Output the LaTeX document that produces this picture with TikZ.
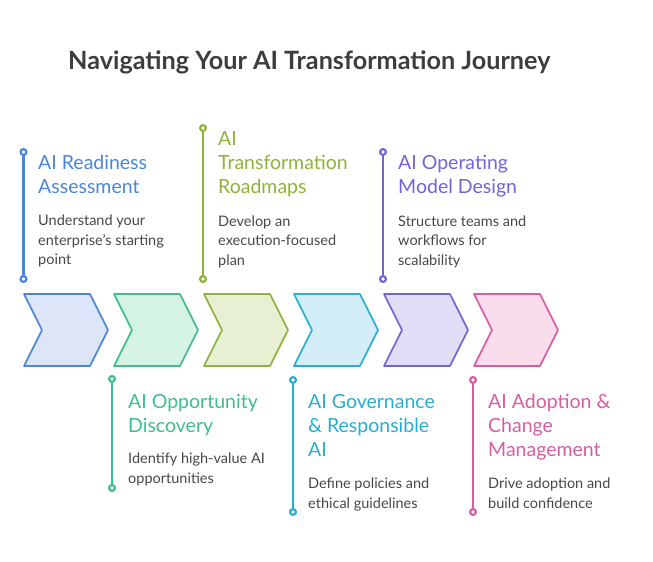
\documentclass[tikz,border=0pt]{standalone}
\usepackage{fontspec}
\setmainfont{Lato}
\usetikzlibrary{arrows.meta}
\definecolor{cblue}{HTML}{4A86D8}
\definecolor{cgreen}{HTML}{3DBE8B}
\definecolor{colive}{HTML}{8DB33A}
\definecolor{ccyan}{HTML}{27AED2}
\definecolor{cpurple}{HTML}{7463D6}
\definecolor{cpink}{HTML}{D95BA0}
\definecolor{textgray}{HTML}{474747}
\definecolor{headgray}{HTML}{3D3D3D}
\tikzset{
	ttl/.style={anchor=base west, align=left, inner sep=0pt, font=\fontsize{19.5}{24}\selectfont},
	desc/.style={anchor=base west, align=left, inner sep=0pt, text=textgray, font=\fontsize{14.5}{19.5}\selectfont},
	pin/.style={line width=2.2pt, {Circle[open,fill=white,length=8pt,width=8pt]}-{Circle[open,fill=white,length=8pt,width=8pt]}}
}

\begin{document}
\begin{tikzpicture}[x=1pt,y=-1pt]
			\useasboundingbox (0,0) rectangle (653,562);
			\node[anchor=base west, inner sep=0pt, text=headgray, font=\fontsize{25.2}{30}\selectfont\bfseries] (head) at (68,69) {Navigating Your AI Transformation Journey};

			\foreach \i/\c/\f in {0/cblue/DCE6F8, 1/cgreen/D5F3E5, 2/colive/E8F0D4, 3/ccyan/D3EEF8, 4/cpurple/E2DEF8, 5/cpink/F9DDEC}{
				\definecolor{chfill}{HTML}{\f}
				\draw[\c, fill=chfill, line width=1.6pt, line join=round] (24+90*\i,294) -- ++(66,0) -- ++(18,36) -- ++(-18,36) -- ++(-66,0) -- ++(18,-36) -- cycle;
			}

			\coordinate (p1a) at (23.5,148);
			\coordinate (p1b) at (23.5,283);
			\coordinate (p2a) at (112,375);
			\coordinate (p2b) at (112,492);
			\coordinate (p3a) at (203,124);
			\coordinate (p3b) at (203,283);
			\coordinate (p4a) at (293,376);
			\coordinate (p4b) at (293,516);
			\coordinate (p5a) at (383,148);
			\coordinate (p5b) at (383,283);
			\coordinate (p6a) at (473,376);
			\coordinate (p6b) at (473,516);
			\draw[pin, cblue] (p1a) -- (p1b);
			\draw[pin, cgreen] (p2a) -- (p2b);
			\draw[pin, colive] (p3a) -- (p3b);
			\draw[pin, ccyan] (p4a) -- (p4b);
			\draw[pin, cpurple] (p5a) -- (p5b);
			\draw[pin, cpink] (p6a) -- (p6b);

			\node[ttl, text=cblue] (t1) at (38,193.5) {AI Readiness\\Assessment};
			\node[desc] (d1) at (38,264.5) {Understand your\\enterprise's starting\\point};
			\node[ttl, text=colive] (t3) at (218,193) {AI\\Transformation\\Roadmaps};
			\node[desc] (d3) at (218,265) {Develop an\\execution-focused\\plan};
			\node[ttl, text=cpurple] (t5) at (398,193.5) {AI Operating\\Model Design};
			\node[desc] (d5) at (398,265) {Structure teams and\\workflows for\\scalability};

			\node[ttl, text=cgreen] (t2) at (128,432.5) {AI Opportunity\\Discovery};
			\node[desc] (d2) at (128,483) {Identify high-value AI\\opportunities};
			\node[ttl, text=ccyan] (t4) at (308,456) {AI Governance\\\& Responsible\\AI};
			\node[desc] (d4) at (308,508) {Define policies and\\ethical guidelines};
			\node[ttl, text=cpink] (t6) at (488,456) {AI Adoption \&\\Change\\Management};
			\node[desc] (d6) at (488,508) {Drive adoption and\\build confidence};
		\end{tikzpicture}
\end{document}
